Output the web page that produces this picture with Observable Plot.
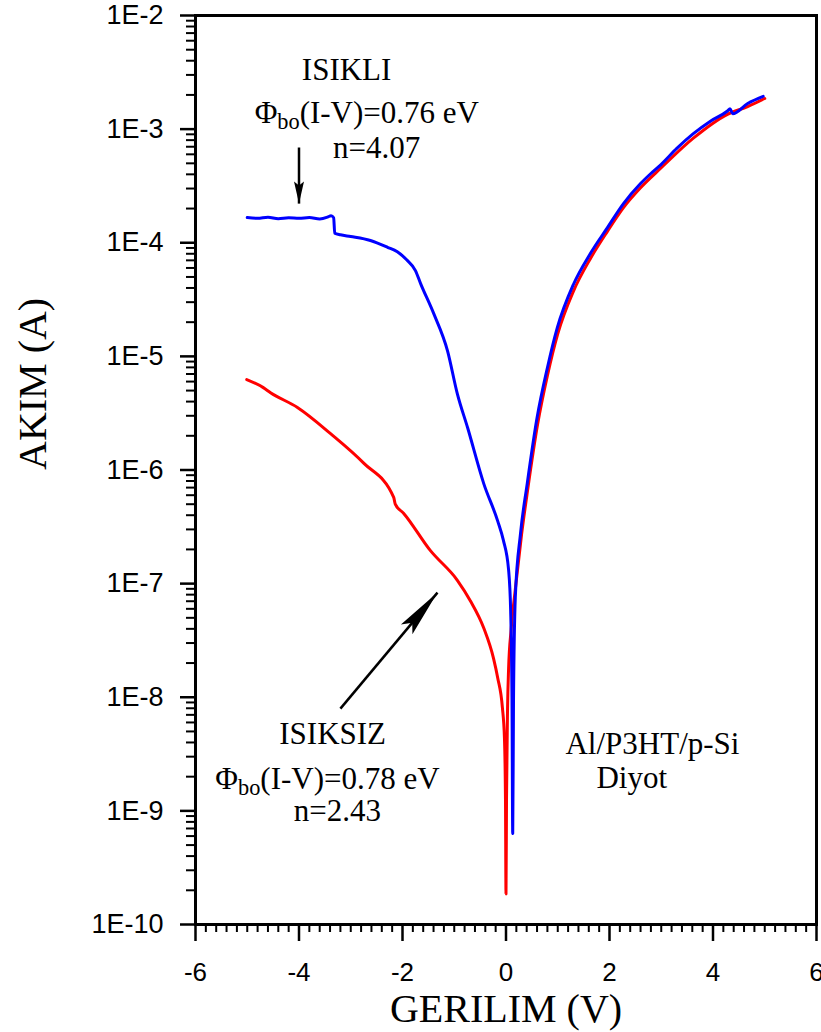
<!DOCTYPE html>
<html>
<head>
<meta charset="utf-8">
<script src="https://cdn.jsdelivr.net/npm/d3@7"></script>
<script src="https://cdn.jsdelivr.net/npm/@observablehq/plot@0.6"></script>
<style>
  html, body { margin: 0; padding: 0; background: #fff; }
  #chart svg { display: block; }
</style>
</head>
<body>
<div id="chart"></div>
<script>
// ---- Data ----
// ISIKLI (illuminated) – blue
const isikliV = [-5.00, -4.80, -4.60, -4.40, -4.20, -4.00, -3.80, -3.60, -3.45, -3.38, -3.33, -3.31, -3.20, -3.00,
  -2.62, -2.29, -2.10, -1.92, -1.75, -1.65, -1.40, -1.13, -0.94, -0.74, -0.43, -0.16, -0.05, 0.05, 0.09, 0.116, 0.13,
  0.145, 0.18, 0.28, 0.41, 0.60, 0.80, 0.99, 1.30, 1.63, 1.96, 2.27, 2.60, 2.80, 3.00, 3.30, 3.62, 3.95, 4.28, 4.33,
  4.38, 4.67, 4.97];
const isikliI = [1.667e-4, 1.641e-4, 1.679e-4, 1.63e-4, 1.66e-4, 1.64e-4, 1.667e-4, 1.62e-4, 1.68e-4, 1.73e-4, 1.66e-4,
  1.216e-4, 1.175e-4, 1.135e-4, 1.047e-4, 9.12e-5, 8.32e-5, 7.08e-5, 5.69e-5, 4.37e-5, 2.40e-5, 1.12e-5, 4.68e-6,
  2.34e-6, 7.59e-7, 3.55e-7, 2.40e-7, 1.32e-7, 5.75e-8, 9.33e-9, 6.31e-10, 9.33e-9, 7.59e-8, 2.75e-7, 7.59e-7,
  2.88e-6, 7.94e-6, 1.78e-5, 4.27e-5, 8.04e-5, 1.36e-4, 2.21e-4, 3.32e-4, 4.07e-4, 4.90e-4, 6.76e-4, 9.12e-4,
  1.175e-3, 1.445e-3, 1.51e-3, 1.365e-3, 1.68e-3, 1.94e-3];

// ISIKSIZ (dark) – red
const isiksizV = [-5.01, -4.69, -4.55, -4.03, -3.39, -2.75, -2.17, -2.14, -1.98, -1.46, -0.94, -0.69, -0.43, -0.24,
  -0.16, -0.07, -0.03, -0.01, 0.00, 0.01, 0.03, 0.05, 0.10, 0.18, 0.30, 0.42, 0.61, 0.80, 1.00, 1.30, 1.63, 1.96,
  2.27, 2.60, 3.00, 3.62, 4.28, 4.67, 5.00];
const isiksizI = [6.25e-6, 5.31e-6, 4.79e-6, 3.55e-6, 2.09e-6, 1.15e-6, 5.75e-7, 5.01e-7, 4.17e-7, 1.95e-7, 1.07e-7,
  7.08e-8, 4.07e-8, 2.19e-8, 1.48e-8, 8.13e-9, 4.37e-9, 1.26e-9, 1.86e-10, 1.26e-9, 7.94e-9, 1.78e-8, 3.98e-8,
  8.91e-8, 2.69e-7, 6.76e-7, 2.51e-6, 6.76e-6, 1.58e-5, 3.72e-5, 7.24e-5, 1.26e-4, 2.04e-4, 3.05e-4, 4.57e-4,
  8.32e-4, 1.35e-3, 1.58e-3, 1.86e-3];

// Axis ticks
const xMajorTicks = [-6, -4, -2, 0, 2, 4, 6];
const yMajorTicks = [1e-10, 1e-9, 1e-8, 1e-7, 1e-6, 1e-5, 1e-4, 1e-3, 1e-2];
const yTickLabels = ["1E-10", "1E-9", "1E-8", "1E-7", "1E-6", "1E-5", "1E-4", "1E-3", "1E-2"];

// Annotations
const annoText = ["ISIKLI", "Φbo(I-V)=0.76 eV", "n=4.07", "ISIKSIZ", "Φbo(I-V)=0.78 eV", "n=2.43", "Al/P3HT/p-Si", "Diyot"];
const annoV = [-3.08, -2.69, -2.50, -3.35, -3.45, -3.26, 2.83, 2.43];
const annoI = [2.68e-3, 1.14e-3, 5.62e-4, 3.91e-9, 1.57e-9, 8.20e-10, 3.19e-9, 1.60e-9];

const arrowLight = {v1: -4.0, i1: 6.89e-4, v2: -4.0, i2: 2.21e-4};
const arrowDark = {v1: -3.2, i1: 7.94e-9, v2: -1.324, i2: 8.34e-8};

// ---- Build tables ----
const blue = isikliV.map((v, i) => ({v, I: isikliI[i]}));
const red = isiksizV.map((v, i) => ({v, I: isiksizI[i]}));
const annotations = annoText.map((text, i) => ({text, v: annoV[i], I: annoI[i]}));

const yMinor = [];
for (let k = 0; k < yMajorTicks.length - 1; k++) {
  for (let m = 2; m <= 9; m++) yMinor.push(m * yMajorTicks[k]);
}
const xMinor = d3.range(-60, 61, 2).map(d => d / 10)
  .filter(d => Math.abs(d / 2 - Math.round(d / 2)) > 1e-9);

const sans = "'Liberation Sans', Arial, sans-serif";
const serif = "'Liberation Serif', 'Times New Roman', serif";

const chart = Plot.plot({
  width: 821,
  height: 1032,
  marginLeft: 195,
  marginRight: 5,
  marginTop: 15,
  marginBottom: 108,
  x: {domain: [-6, 6]},
  y: {type: "log", domain: [1e-10, 1e-2]},
  style: {fontFamily: serif, background: "white", color: "black"},
  marks: [
    Plot.axisY(yMinor, {tickSize: 9, strokeWidth: 2, tickFormat: () => "", label: null}),
    Plot.axisY(yMajorTicks, {
      tickSize: 15, strokeWidth: 2.5, tickPadding: 17,
      tickFormat: d => yTickLabels[yMajorTicks.indexOf(d)],
      fontSize: 27, fontFamily: sans, label: null
    }),
    Plot.axisX(xMinor, {tickSize: 8, strokeWidth: 2, tickFormat: () => "", label: null}),
    Plot.axisX(xMajorTicks, {
      tickSize: 17, strokeWidth: 2.5, tickPadding: 21,
      tickFormat: d => String(d),
      fontSize: 26, fontFamily: sans, label: null
    }),
    Plot.frame({strokeWidth: 3}),
    Plot.line(red, {x: "v", y: "I", stroke: "#ff0000", strokeWidth: 3, curve: "monotone-x"}),
    Plot.line(blue, {x: "v", y: "I", stroke: "#0000ff", strokeWidth: 3, curve: "monotone-x"}),
    Plot.link([arrowLight], {x1: "v1", y1: "i1", x2: "v2", y2: "i2", stroke: "black", strokeWidth: 2.5, ariaLabel: () => "arrow-light"}),
    Plot.link([arrowDark], {x1: "v1", y1: "i1", x2: "v2", y2: "i2", stroke: "black", strokeWidth: 2.5, ariaLabel: () => "arrow-dark"}),
    Plot.text(annotations, {
      x: "v", y: "I", text: "text", fontSize: 31, fontFamily: serif,
      textAnchor: "middle", lineAnchor: "bottom", fill: "black"
    }),
    Plot.text(["GERILIM (V)"], {frameAnchor: "bottom", dy: 97, lineAnchor: "bottom", fontSize: 40, fontFamily: serif, fill: "black"}),
    Plot.text(["AKIM (A)"], {frameAnchor: "left", dx: -162.5, rotate: -90, lineAnchor: "middle", fontSize: 40, fontFamily: serif, fill: "black"})
  ]
});

// Subscripts for Φbo
d3.select(chart).selectAll("text").each(function() {
  const t = this.textContent;
  if (t.startsWith("Φbo")) {
    const el = d3.select(this);
    el.text(null);
    el.append("tspan").text("Φ");
    el.append("tspan").attr("font-size", "0.72em").attr("dy", 6).text("bo");
    el.append("tspan").attr("dy", -6).text(t.slice(3));
  }
});

// Filled arrow heads
const svgEl = chart.tagName.toLowerCase() === "svg" ? chart : chart.querySelector("svg");
const svgSel = d3.select(svgEl);
const defs = svgSel.insert("defs", ":first-child");
function addHead(id, len, wid) {
  defs.append("marker")
    .attr("id", id).attr("markerUnits", "userSpaceOnUse")
    .attr("markerWidth", len).attr("markerHeight", wid)
    .attr("viewBox", `0 0 ${len} ${wid}`)
    .attr("refX", len).attr("refY", wid / 2).attr("orient", "auto")
    .attr("overflow", "visible")
    .append("path")
    .attr("d", `M0,0 L${len},${wid / 2} L0,${wid} L${len * 0.18},${wid / 2} Z`)
    .attr("fill", "black").attr("stroke", "none");
}
addHead("head-light", 22, 10);
addHead("head-dark", 48, 15);
function setHead(label, id) {
  svgSel.selectAll(`[aria-label="${label}"]`).each(function() {
    const el = this.tagName.toLowerCase() === "path" || this.tagName.toLowerCase() === "line" ? [this] : this.querySelectorAll("path, line");
    for (const p of el) p.setAttribute("marker-end", `url(#${id})`);
  });
}
setHead("arrow-light", "head-light");
setHead("arrow-dark", "head-dark");

document.getElementById("chart").appendChild(chart);
</script>
</body>
</html>
